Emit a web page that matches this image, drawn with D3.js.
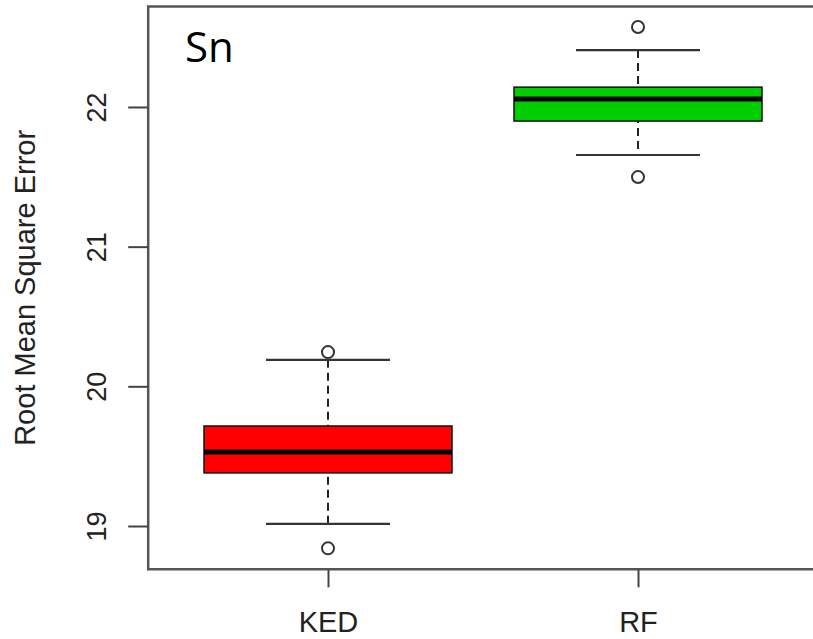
<!DOCTYPE html>
<html>
<head>
<meta charset="utf-8">
<script src="https://cdn.jsdelivr.net/npm/d3@7"></script>
<style>
  body { margin: 0; background: #fff; overflow: hidden; }
  svg { display: block; }
</style>
</head>
<body>
<div id="chart"></div>
<script>
// box statistics
const categories = ["KED", "RF"];
const whiskerLow = [19.015, 21.656];
const q1 = [19.38, 21.899];
const median = [19.53, 22.057];
const q3 = [19.716, 22.142];
const whiskerHigh = [20.19, 22.407];
const outliers = [[20.245, 18.84], [22.572, 21.498]];
const yTicks = [19, 20, 21, 22];

const width = 813, height = 639;
const frame = { left: 148.2, right: 817.8, top: 6.4, bottom: 569.3 };
const boxColors = ["#ff0000", "#00cd00"];

const svg = d3.select("#chart").append("svg").attr("width", width).attr("height", height)
    .style("overflow", "hidden");

// R style limits: 0.5..2.5 with 4% padding
const x = d3.scaleLinear().domain([0.42, 2.58]).range([frame.left, frame.right]);
const y = d3.scaleLinear().domain([18.69, 22.72]).range([frame.bottom, frame.top]);

const boxes = categories.map((c, i) => ({
    name: c, pos: i + 1, lo: whiskerLow[i], q1: q1[i], med: median[i],
    q3: q3[i], hi: whiskerHigh[i], out: outliers[i], color: boxColors[i]
}));

const g = svg.selectAll("g.box").data(boxes).enter().append("g").attr("class", "box");

// dashed whiskers
g.append("line").attr("x1", d => x(d.pos)).attr("x2", d => x(d.pos))
    .attr("y1", d => y(d.hi)).attr("y2", d => y(d.lo))
    .attr("stroke", "#222").attr("stroke-width", 2).attr("stroke-dasharray", "8,5");

// staples
["lo", "hi"].forEach(k => {
    g.append("line").attr("x1", d => x(d.pos - 0.2)).attr("x2", d => x(d.pos + 0.2))
        .attr("y1", d => y(d[k])).attr("y2", d => y(d[k]))
        .attr("stroke", "#333").attr("stroke-width", 2.2);
});

g.append("rect").attr("x", d => x(d.pos - 0.4)).attr("width", d => x(d.pos + 0.4) - x(d.pos - 0.4))
    .attr("y", d => y(d.q3)).attr("height", d => y(d.q1) - y(d.q3))
    .attr("fill", d => d.color).attr("stroke", "#111").attr("stroke-width", 1.5);

g.append("line").attr("x1", d => x(d.pos - 0.4)).attr("x2", d => x(d.pos + 0.4))
    .attr("y1", d => y(d.med)).attr("y2", d => y(d.med))
    .attr("stroke", "#000").attr("stroke-width", 5);

g.selectAll("circle").data(d => d.out.map(v => ({ pos: d.pos, v: v }))).enter().append("circle")
    .attr("cx", d => x(d.pos)).attr("cy", d => y(d.v)).attr("r", 6)
    .attr("fill", "none").attr("stroke", "#333").attr("stroke-width", 2);

// frame: right side falls outside the picture, so only three sides are drawn
svg.append("path")
    .attr("d", `M${width + 10},${frame.top}H${frame.left}V${frame.bottom}H${width + 10}`)
    .attr("fill", "none").attr("stroke", "#555").attr("stroke-width", 2.5);

// y axis
const yAxis = svg.append("g").attr("transform", `translate(${frame.left},0)`)
    .call(d3.axisLeft(y).tickValues(yTicks).tickSize(20).tickFormat(d3.format("d")));
yAxis.select(".domain").remove();
yAxis.selectAll(".tick line").attr("stroke", "#444").attr("stroke-width", 2);
yAxis.selectAll(".tick text")
    .attr("transform", "rotate(-90)").attr("x", 0).attr("y", -42).attr("dy", 0)
    .attr("text-anchor", "middle")
    .style("font-family", "'Liberation Sans', Arial, sans-serif").style("font-size", "27px").attr("fill", "#222");

// x axis
const xAxis = svg.append("g").attr("transform", `translate(0,${frame.bottom})`)
    .call(d3.axisBottom(x).tickValues([1, 2]).tickSize(18).tickFormat((d, i) => categories[i]));
xAxis.select(".domain").remove();
xAxis.selectAll(".tick line").attr("stroke", "#444").attr("stroke-width", 2);
xAxis.selectAll(".tick text").attr("y", 63).attr("dy", 0)
    .style("font-family", "'Liberation Sans', Arial, sans-serif").style("font-size", "29px").attr("fill", "#222");

// axis title
svg.append("text").attr("transform", `translate(35,${(frame.top + frame.bottom) / 2}) rotate(-90)`)
    .attr("text-anchor", "middle")
    .style("font-family", "'Liberation Sans', Arial, sans-serif").style("font-size", "29px").attr("fill", "#222")
    .text("Root Mean Square Error");

svg.append("text").attr("x", 185).attr("y", 62)
    .style("font-family", "'Open Sans', 'Noto Sans', sans-serif").style("font-size", "42px").attr("fill", "#000")
    .text("Sn");
</script>
</body>
</html>
